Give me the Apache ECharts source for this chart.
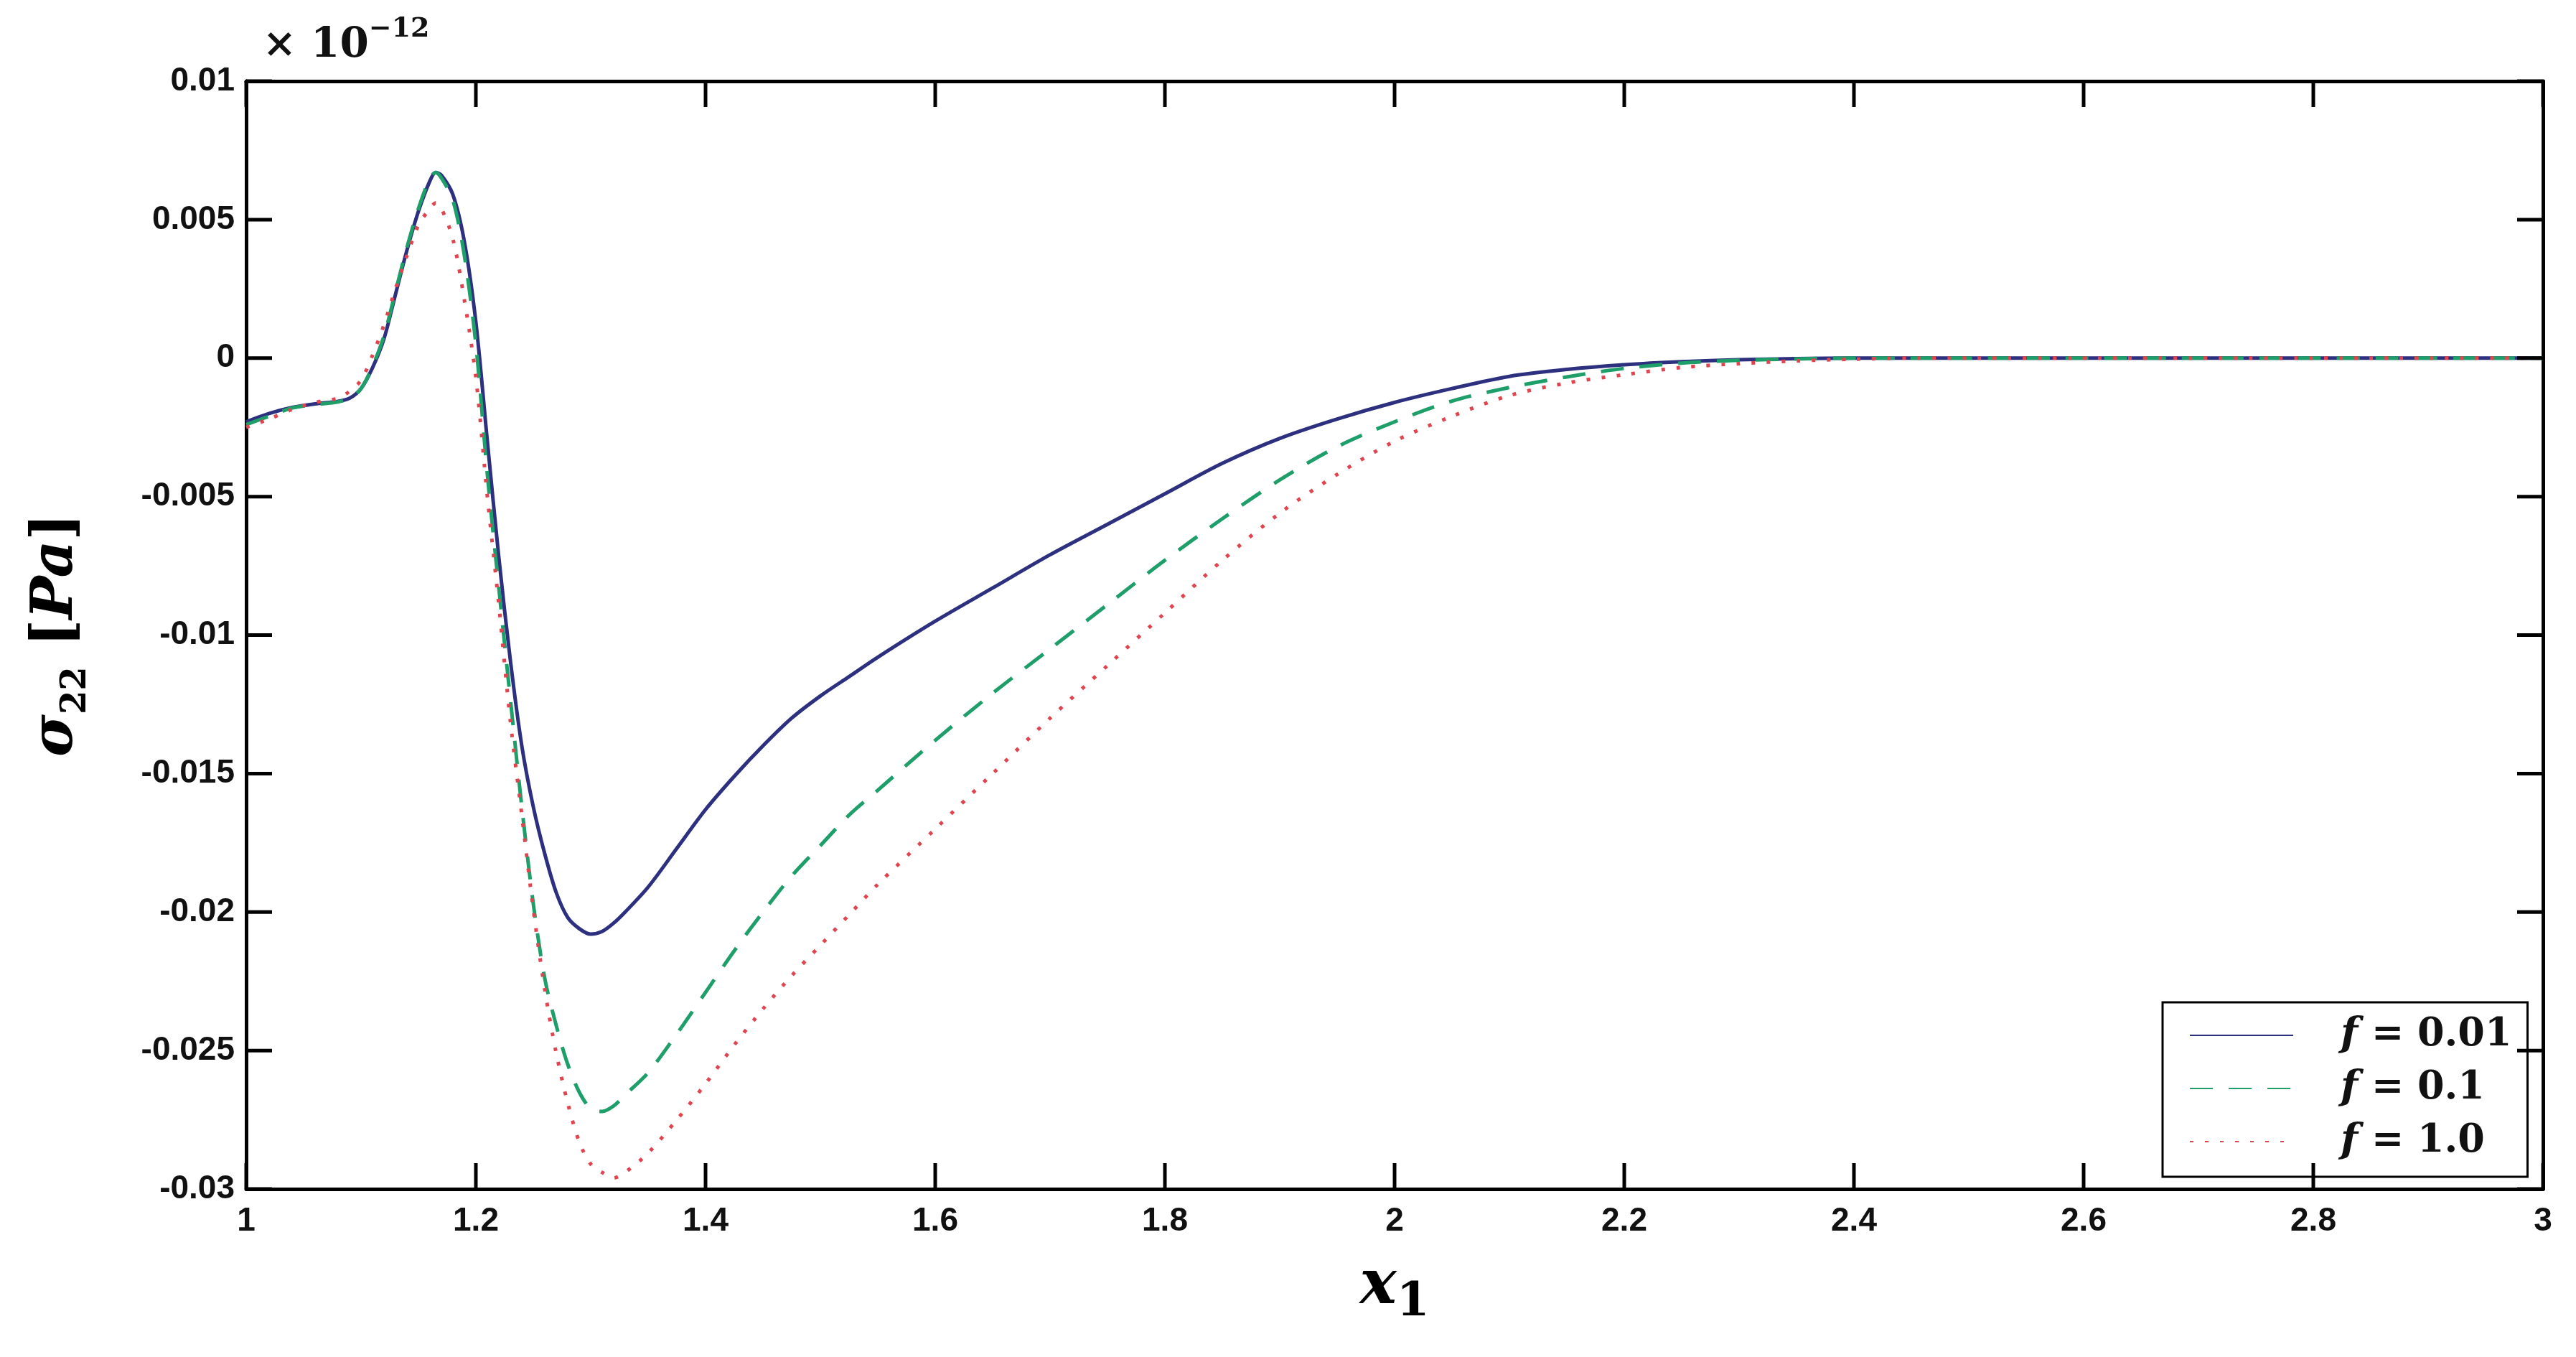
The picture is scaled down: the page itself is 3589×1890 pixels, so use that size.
<!DOCTYPE html>
<html>
<head>
<meta charset="utf-8">
<script src="https://cdn.jsdelivr.net/npm/echarts@6/dist/echarts.min.js"></script>
<style>
html,body{margin:0;padding:0;background:#fff;}
#chart{width:3589px;height:1890px;}
</style>
</head>
<body>
<div id="chart"></div>
<script>
// ---- data ----
const xValues = [
  1.00, 1.02, 1.04, 1.06, 1.08, 1.09, 1.10, 1.11, 1.12, 1.13, 1.14, 1.15, 1.16, 1.165, 1.17, 1.18, 1.19, 1.20,
  1.21, 1.22, 1.23, 1.24, 1.25, 1.26, 1.27, 1.28, 1.29, 1.30, 1.31, 1.32, 1.33,
  1.35, 1.375, 1.40, 1.425, 1.45, 1.475, 1.50, 1.525,
  1.55, 1.60, 1.65, 1.70, 1.75, 1.80, 1.85, 1.90, 1.95, 2.00, 2.05, 2.10, 2.15, 2.20, 2.25, 2.30, 2.35, 2.40,
  2.45, 2.50, 2.60, 2.80, 3.00
];
const sigmaF001 = [
  -0.0023, -0.0020, -0.00178, -0.00165, -0.00156, -0.00145, -0.0011, -0.00035, 0.0007, 0.0023, 0.0039, 0.0053, 0.0064, 0.0067, 0.0066, 0.0059, 0.0042, 0.0013,
  -0.0030, -0.0072, -0.0109, -0.0140, -0.0162, -0.0179, -0.0193, -0.0202, -0.0206, -0.0208, -0.0207, -0.0204, -0.0200,
  -0.0191, -0.0177, -0.0163, -0.0151, -0.0140, -0.0130, -0.0122, -0.0115,
  -0.0108, -0.0095, -0.0083, -0.0071, -0.0060, -0.0049, -0.0038, -0.0029, -0.0022, -0.0016, -0.0011, -0.00066, -0.00041, -0.00024, -0.00013, -0.00006, -0.00002, 0,
  0, 0, 0, 0, 0
];
const sigmaF01 = [
  -0.0024, -0.0021, -0.0018, -0.00168, -0.00158, -0.00145, -0.0011, -0.0003, 0.0008, 0.0024, 0.0040, 0.0054, 0.0065, 0.0067, 0.0065, 0.0057, 0.0037, 0.0005,
  -0.0042, -0.0083, -0.0123, -0.0162, -0.0197, -0.0224, -0.0241, -0.0255, -0.0265, -0.0271, -0.0272, -0.0270, -0.0266,
  -0.0258, -0.0244, -0.0229, -0.0214, -0.0200, -0.0187, -0.0176, -0.0165,
  -0.0156, -0.0138, -0.0121, -0.0105, -0.0089, -0.0073, -0.0058, -0.0044, -0.0032, -0.0023, -0.00155, -0.00106, -0.00068, -0.00037, -0.00018, -0.00008, -0.00003, 0,
  0, 0, 0, 0, 0
];
const sigmaF10 = [
  -0.0025, -0.0022, -0.00185, -0.0016, -0.00145, -0.0012, -0.0008, 0.0001, 0.0012, 0.0025, 0.0037, 0.0048, 0.0054, 0.0056, 0.0054, 0.0043, 0.0021, -0.0007,
  -0.0050, -0.0089, -0.0131, -0.0165, -0.0199, -0.0228, -0.0251, -0.0269, -0.0283, -0.0291, -0.0294, -0.0296, -0.0294,
  -0.0287, -0.0275, -0.0262, -0.0248, -0.0235, -0.0223, -0.0212, -0.0201,
  -0.0190, -0.0170, -0.0150, -0.0130, -0.0111, -0.0092, -0.0073, -0.0056, -0.0042, -0.0030, -0.0021, -0.00135, -0.0009, -0.0006, -0.00034, -0.0002, -0.0001, -0.00004,
  0, 0, 0, 0, 0
];
const seriesNames = ['f = 0.01', 'f = 0.1', 'f = 1.0'];
const xTickValues = [1, 1.2, 1.4, 1.6, 1.8, 2, 2.2, 2.4, 2.6, 2.8, 3];
const yTickValues = [-0.03, -0.025, -0.02, -0.015, -0.01, -0.005, 0, 0.005, 0.01];
const xAxisRange = { min: 1, max: 3, interval: 0.2 };
const yAxisRange = { min: -0.03, max: 0.01, interval: 0.005 };
const exponentBase = '10';
const exponentPower = '−12';

// ---- styling ----
const MATH_FONT = 'DejaVu Serif';
const TICK_FONT = 'Liberation Sans';
const colors = ['#2d307f', '#1e9e68', '#e0454f'];
const dashStyles = ['solid', [32, 22], [5, 16]];
const TICK_LEN = 36;

function pairs(ys) { return xValues.map((x, i) => [x, ys[i]]); }
const seriesData = [sigmaF001, sigmaF01, sigmaF10];

function axisLine() { return { show: true, onZero: false, lineStyle: { color: '#000', width: 5 } }; }
function tickLabel(margin) { return { show: true, margin: margin, fontFamily: TICK_FONT, fontSize: 46, fontWeight: 'bold', color: '#111' }; }

const chart = echarts.init(document.getElementById('chart'), null, { renderer: 'canvas', width: 3589, height: 1890 });

const option = {
  backgroundColor: '#ffffff',
  animation: false,
  title: {
    text: '{x|×}{m| ' + exponentBase + '}{sup|' + exponentPower + '}',
    left: 366, top: 22, padding: 0,
    textStyle: {
      rich: {
        x: { fontFamily: MATH_FONT, fontSize: 56, lineHeight: 84, verticalAlign: 'middle', color: '#111' },
        m: { fontFamily: MATH_FONT, fontWeight: 'bold', fontSize: 58, lineHeight: 84, verticalAlign: 'middle', color: '#111' },
        sup: { fontFamily: MATH_FONT, fontWeight: 'bold', fontSize: 38, lineHeight: 38, verticalAlign: 'top', color: '#111' }
      }
    }
  },
  grid: { left: 343, right: 46, top: 113, bottom: 234, containLabel: false },
  legend: {
    data: seriesNames,
    orient: 'vertical',
    left: 3013, top: 1396,
    padding: [18, 22, 21, 37],
    itemWidth: 144, itemHeight: 52, itemGap: 18,
    borderColor: '#000', borderWidth: 3, backgroundColor: '#fff',
    selectedMode: false,
    itemStyle: { color: 'rgba(0,0,0,0)', borderWidth: 0, opacity: 0 },
    formatter: function (name) {
      return '{sp|}{f|f}{r|' + name.slice(1) + '}';
    },
    textStyle: {
      width: 295, overflow: 'none',
      fontFamily: MATH_FONT, fontWeight: 'bold', fontSize: 54, lineHeight: 52, color: '#111',
      rich: {
        sp: { width: 61, fontSize: 54, lineHeight: 52 },
        f: { fontFamily: MATH_FONT, fontWeight: 'bold', fontStyle: 'italic', fontSize: 56, lineHeight: 52, color: '#111' },
        r: { fontFamily: MATH_FONT, fontWeight: 'bold', fontSize: 54, lineHeight: 52, color: '#111' }
      }
    }
  },
  xAxis: [
    {
      type: 'value', position: 'bottom', min: xAxisRange.min, max: xAxisRange.max, interval: xAxisRange.interval,
      axisLine: axisLine(), axisTick: { show: false }, splitLine: { show: false },
      axisLabel: tickLabel(22),
      name: '{i|x}{sub|1}', nameLocation: 'middle', nameGap: 82,
      nameTextStyle: {
        rich: {
          i: { fontFamily: MATH_FONT, fontWeight: 'bold', fontStyle: 'italic', fontSize: 86, lineHeight: 110, verticalAlign: 'middle', color: '#000' },
          sub: { fontFamily: MATH_FONT, fontWeight: 'bold', fontSize: 66, lineHeight: 62, verticalAlign: 'bottom', color: '#000' }
        }
      }
    },
    {
      type: 'value', position: 'top', min: xAxisRange.min, max: xAxisRange.max, interval: xAxisRange.interval,
      axisLine: axisLine(), axisTick: { show: false }, axisLabel: { show: false }, splitLine: { show: false }
    }
  ],
  yAxis: [
    {
      type: 'value', position: 'left', min: yAxisRange.min, max: yAxisRange.max, interval: yAxisRange.interval,
      axisLine: axisLine(), axisTick: { show: false }, splitLine: { show: false },
      axisLabel: tickLabel(16),
      name: '{s|σ}{sub|22}{b| [}{i|Pa}{b|]}', nameLocation: 'middle', nameRotate: 90, nameGap: 212,
      nameTextStyle: {
        rich: {
          s: { fontFamily: MATH_FONT, fontWeight: 'bold', fontStyle: 'italic', fontSize: 80, lineHeight: 104, verticalAlign: 'middle', color: '#000' },
          sub: { fontFamily: MATH_FONT, fontWeight: 'bold', fontSize: 48, lineHeight: 40, verticalAlign: 'bottom', color: '#000' },
          b: { fontFamily: MATH_FONT, fontWeight: 'bold', fontSize: 80, lineHeight: 104, verticalAlign: 'middle', color: '#000' },
          i: { fontFamily: MATH_FONT, fontWeight: 'bold', fontStyle: 'italic', fontSize: 80, lineHeight: 104, verticalAlign: 'middle', color: '#000' }
        }
      }
    },
    {
      type: 'value', position: 'right', min: yAxisRange.min, max: yAxisRange.max, interval: yAxisRange.interval,
      axisLine: axisLine(), axisTick: { show: false }, axisLabel: { show: false }, splitLine: { show: false }
    }
  ],
  series: seriesNames.map((name, k) => ({
    name: name,
    type: 'line',
    xAxisIndex: 0, yAxisIndex: 0,
    data: pairs(seriesData[k]),
    showSymbol: false, symbol: 'none',
    smooth: 0.3,
    color: colors[k],
    lineStyle: { color: colors[k], width: 5, type: dashStyles[k], cap: 'butt' },
    z: 2 + k
  }))
};

chart.setOption(option);

// inward tick marks on all four sides of the box, positioned through the chart's own scales
const tickElements = [];
const tickStyle = { stroke: '#000', lineWidth: 5 };
xTickValues.forEach(function (v) {
  const a = chart.convertToPixel({ gridIndex: 0 }, [v, yAxisRange.min]);
  const b = chart.convertToPixel({ gridIndex: 0 }, [v, yAxisRange.max]);
  tickElements.push({ type: 'line', silent: true, z: 100, shape: { x1: a[0], y1: a[1], x2: a[0], y2: a[1] - TICK_LEN }, style: tickStyle });
  tickElements.push({ type: 'line', silent: true, z: 100, shape: { x1: b[0], y1: b[1], x2: b[0], y2: b[1] + TICK_LEN }, style: tickStyle });
});
yTickValues.forEach(function (v) {
  const a = chart.convertToPixel({ gridIndex: 0 }, [xAxisRange.min, v]);
  const b = chart.convertToPixel({ gridIndex: 0 }, [xAxisRange.max, v]);
  tickElements.push({ type: 'line', silent: true, z: 100, shape: { x1: a[0], y1: a[1], x2: a[0] + TICK_LEN, y2: a[1] }, style: tickStyle });
  tickElements.push({ type: 'line', silent: true, z: 100, shape: { x1: b[0], y1: b[1], x2: b[0] - TICK_LEN, y2: b[1] }, style: tickStyle });
});
chart.setOption({ graphic: { elements: tickElements } });
</script>
</body>
</html>
